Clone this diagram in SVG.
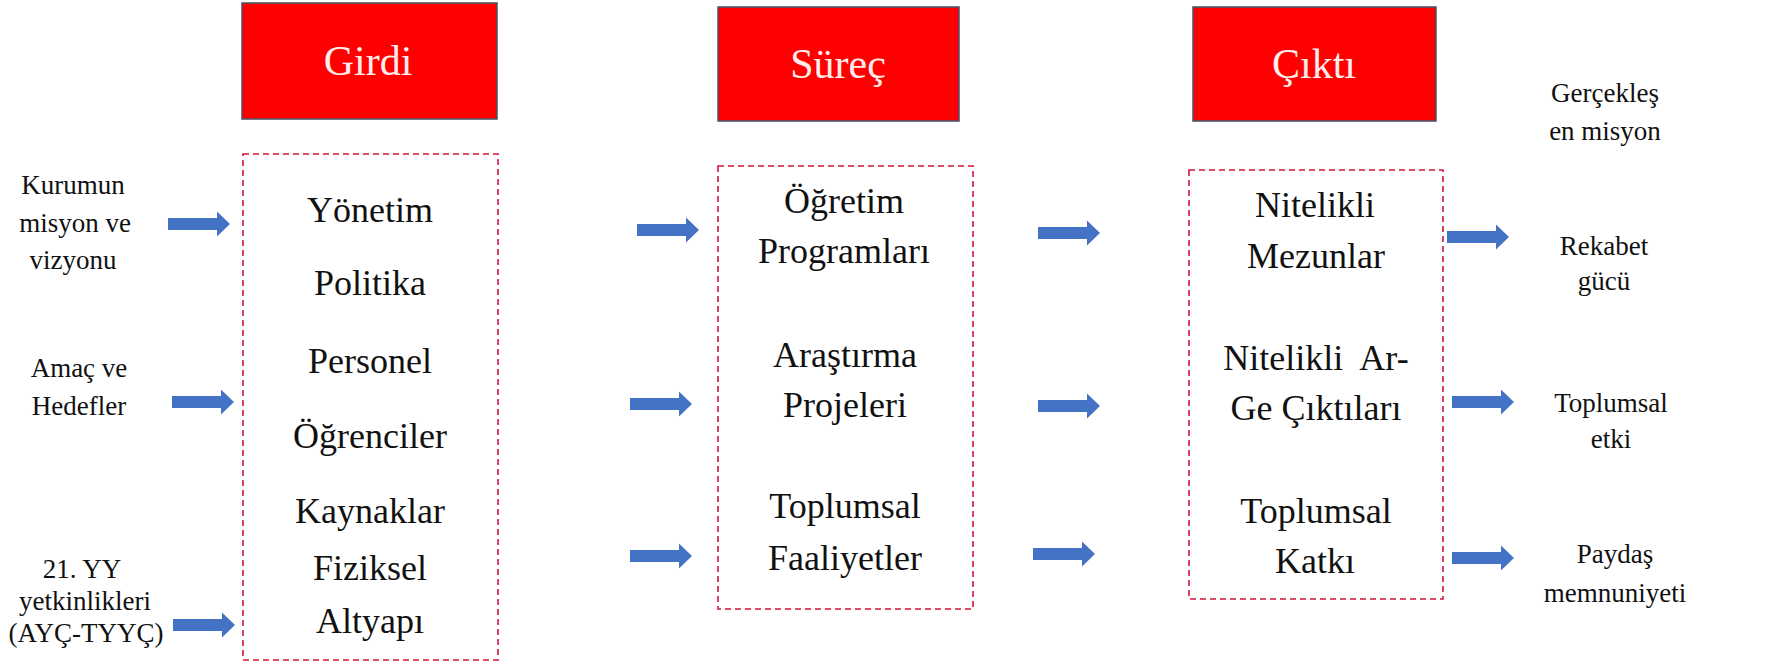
<svg xmlns="http://www.w3.org/2000/svg" xmlns:xlink="http://www.w3.org/1999/xlink" width="1776" height="663" viewBox="0 0 1776 663">
<style>
.hdr{fill:#FF0000;stroke:#44546A;stroke-width:1.5}
.hdrt{font-size:42px;fill:#FFEDED;text-anchor:middle}
.box{fill:none;stroke:#D2143A;stroke-width:1.6;stroke-dasharray:6 4}
.bt{font-size:36px;fill:#111;text-anchor:middle}
.lt{font-size:27px;fill:#111;text-anchor:middle}
.arr{fill:#4472C4}
</style>
<defs>
<path id="arr" d="M0,-6 H49 V-12.5 L62,0 L49,12.5 V6 H0 Z"/>
</defs>
<rect width="1776" height="663" fill="#fff"/>
<g font-family="'Liberation Serif', 'DejaVu Serif', serif">
<g id="girdi-header"><rect class="hdr" x="242" y="3" width="255" height="116"/><text class="hdrt" x="368" y="75">Girdi</text></g>
<g id="surec-header"><rect class="hdr" x="718" y="7" width="241" height="114"/><text class="hdrt" x="838" y="78">Süreç</text></g>
<g id="cikti-header"><rect class="hdr" x="1193" y="7" width="243" height="114"/><text class="hdrt" x="1314" y="78">Çıktı</text></g>

<g id="girdi-box"><rect class="box" x="243" y="154" width="255" height="506"/>
<text class="bt" x="370" y="222">Yönetim</text>
<text class="bt" x="370" y="295">Politika</text>
<text class="bt" x="370" y="373">Personel</text>
<text class="bt" x="370" y="448">Öğrenciler</text>
<text class="bt" x="370" y="523">Kaynaklar</text>
<text class="bt" x="370" y="580">Fiziksel</text>
<text class="bt" x="370" y="633">Altyapı</text>
</g>

<g id="surec-box"><rect class="box" x="718" y="166" width="255" height="443"/>
<text class="bt" x="844" y="213">Öğretim</text>
<text class="bt" x="844" y="263">Programları</text>
<text class="bt" x="845" y="367">Araştırma</text>
<text class="bt" x="845" y="417">Projeleri</text>
<text class="bt" x="845" y="518">Toplumsal</text>
<text class="bt" x="845" y="570">Faaliyetler</text>
</g>

<g id="cikti-box"><rect class="box" x="1189" y="170" width="254" height="429"/>
<text class="bt" x="1315" y="217">Nitelikli</text>
<text class="bt" x="1316" y="268">Mezunlar</text>
<text class="bt" x="1316" y="370" xml:space="preserve">Nitelikli  Ar-</text>
<text class="bt" x="1316" y="420">Ge Çıktıları</text>
<text class="bt" x="1316" y="523">Toplumsal</text>
<text class="bt" x="1315" y="573">Katkı</text>
</g>

<g id="in-kurumun"><text class="lt" x="73" y="194">Kurumun</text><text class="lt" x="75" y="232">misyon ve</text><text class="lt" x="73" y="269">vizyonu</text></g>
<g id="in-amac"><text class="lt" x="79" y="377">Amaç ve</text><text class="lt" x="79" y="415">Hedefler</text></g>
<g id="in-yy"><text class="lt" x="82" y="578">21. YY</text><text class="lt" x="85" y="610">yetkinlikleri</text><text class="lt" x="86" y="642">(AYÇ-TYYÇ)</text></g>

<g id="out-misyon"><text class="lt" x="1605" y="102">Gerçekleş</text><text class="lt" x="1605" y="140">en misyon</text></g>
<g id="out-rekabet"><text class="lt" x="1604" y="255">Rekabet</text><text class="lt" x="1604" y="290">gücü</text></g>
<g id="out-etki"><text class="lt" x="1611" y="412">Toplumsal</text><text class="lt" x="1611" y="448">etki</text></g>
<g id="out-paydas"><text class="lt" x="1615" y="563">Paydaş</text><text class="lt" x="1615" y="602">memnuniyeti</text></g>
</g>
<g id="connectors" class="arr">
<use xlink:href="#arr" x="168" y="224"/>
<use xlink:href="#arr" x="172" y="402"/>
<use xlink:href="#arr" x="173" y="625"/>
<use xlink:href="#arr" x="637" y="230"/>
<use xlink:href="#arr" x="630" y="404"/>
<use xlink:href="#arr" x="630" y="556"/>
<use xlink:href="#arr" x="1038" y="233"/>
<use xlink:href="#arr" x="1038" y="406"/>
<use xlink:href="#arr" x="1033" y="554"/>
<use xlink:href="#arr" x="1447" y="237"/>
<use xlink:href="#arr" x="1452" y="402"/>
<use xlink:href="#arr" x="1452" y="558"/>
</g>
</svg>
